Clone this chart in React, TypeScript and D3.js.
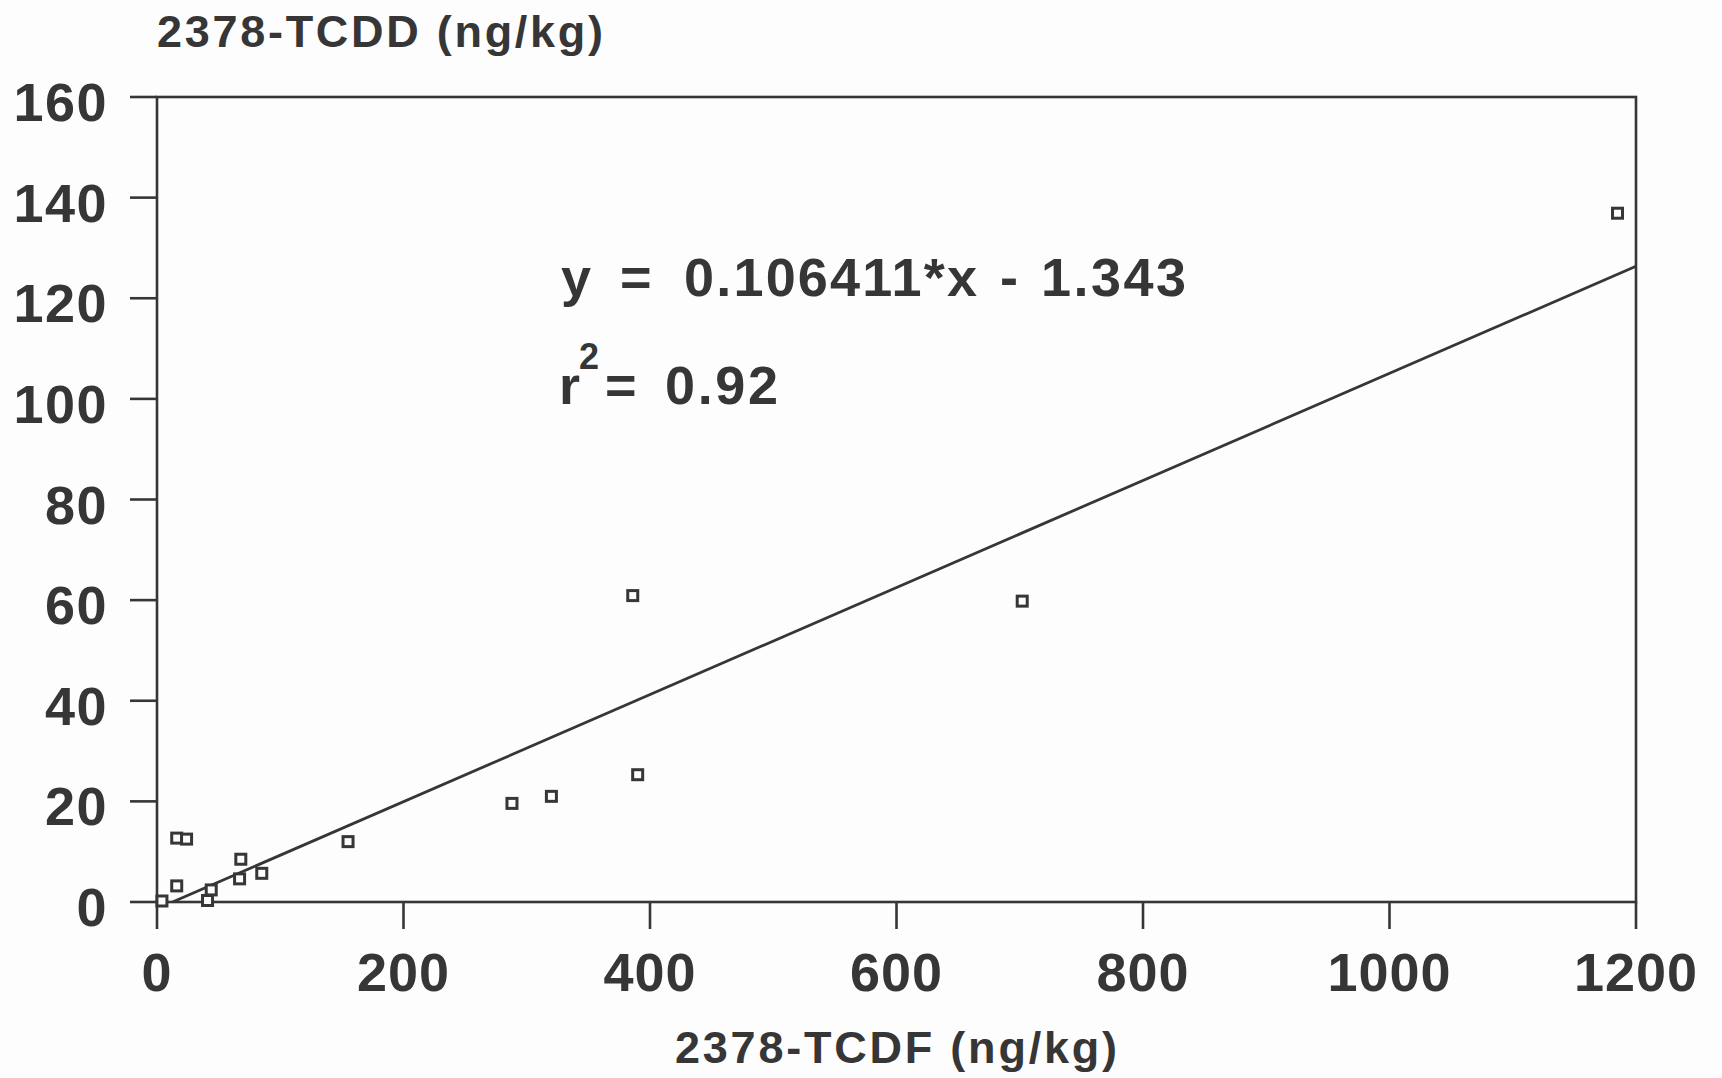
import React, { useEffect, useRef } from "react";
import * as d3 from "d3";

// 2378-TCDF vs 2378-TCDD (ng/kg)
const tcdf = [4, 16, 24, 16, 41, 44, 68, 67, 85, 155, 288, 320, 386, 390, 702, 1185];
const tcdd = [0.2, 12.7, 12.5, 3.2, 0.3, 2.4, 8.5, 4.6, 5.7, 12, 19.6, 21, 60.9, 25.3, 59.8, 136.9];

const xTicks = [0, 200, 400, 600, 800, 1000, 1200];
const yTicks = [0, 20, 40, 60, 80, 100, 120, 140, 160];

const slope = 0.106411;
const intercept = -1.343;
const rSquared = "0.92";

const App = () => {
  const ref = useRef<SVGSVGElement>(null);

  useEffect(() => {
    const svg = d3.select(ref.current);
    svg.selectAll("*").remove();

    const width = 1722;
    const height = 1078;
    const left = 157;
    const right = 1636;
    const top = 97;
    const bottom = 902;
    const ink = "#363636";
    const font = "'Liberation Sans', Arial, Helvetica, sans-serif";
    const tickLen = 27;

    const x = d3.scaleLinear().domain([0, 1200]).range([left, right]);
    const y = d3.scaleLinear().domain([0, 160]).range([bottom, top]);

    svg.attr("width", width).attr("height", height);
    svg.append("rect").attr("width", width).attr("height", height).attr("fill", "#fdfdfd");

    // frame
    svg
      .append("rect")
      .attr("x", left)
      .attr("y", top)
      .attr("width", right - left)
      .attr("height", bottom - top)
      .attr("fill", "none")
      .attr("stroke", ink)
      .attr("stroke-width", 2.6);

    // y ticks
    svg
      .selectAll(".yt")
      .data(yTicks)
      .enter()
      .append("line")
      .attr("x1", left - tickLen)
      .attr("x2", left)
      .attr("y1", (d) => y(d))
      .attr("y2", (d) => y(d))
      .attr("stroke", ink)
      .attr("stroke-width", 2.6);

    svg
      .selectAll(".yl")
      .data(yTicks)
      .enter()
      .append("text")
      .attr("x", 108)
      .attr("y", (d) => y(d) + 24)
      .attr("text-anchor", "end")
      .attr("font-family", font)
      .attr("font-weight", "bold")
      .attr("font-size", 54)
      .attr("letter-spacing", 1.5)
      .attr("fill", ink)
      .text((d) => d);

    // x ticks
    svg
      .selectAll(".xt")
      .data(xTicks)
      .enter()
      .append("line")
      .attr("x1", (d) => x(d))
      .attr("x2", (d) => x(d))
      .attr("y1", bottom)
      .attr("y2", bottom + tickLen)
      .attr("stroke", ink)
      .attr("stroke-width", 2.6);

    svg
      .selectAll(".xl")
      .data(xTicks)
      .enter()
      .append("text")
      .attr("x", (d) => x(d))
      .attr("y", 991)
      .attr("text-anchor", "middle")
      .attr("font-family", font)
      .attr("font-weight", "bold")
      .attr("font-size", 54)
      .attr("letter-spacing", 1)
      .attr("fill", ink)
      .text((d) => d);

    // axis titles
    svg
      .append("text")
      .attr("x", left)
      .attr("y", 47)
      .attr("font-family", font)
      .attr("font-weight", "bold")
      .attr("font-size", 45)
      .attr("textLength", 446)
      .attr("lengthAdjust", "spacing")
      .attr("fill", ink)
      .text("2378-TCDD (ng/kg)");

    svg
      .append("text")
      .attr("x", 675)
      .attr("y", 1063)
      .attr("font-family", font)
      .attr("font-weight", "bold")
      .attr("font-size", 45)
      .attr("textLength", 442)
      .attr("lengthAdjust", "spacing")
      .attr("fill", ink)
      .text("2378-TCDF (ng/kg)");

    // regression line
    const x0 = -intercept / slope;
    const fit = [x0, 1200];
    svg
      .append("path")
      .datum(fit)
      .attr(
        "d",
        d3
          .line<number>()
          .x((d) => x(d))
          .y((d) => y(slope * d + intercept))
      )
      .attr("fill", "none")
      .attr("stroke", ink)
      .attr("stroke-width", 2.8);

    // points
    const pts = tcdf.map((v, i) => [v, tcdd[i]]);
    const s = 10;
    svg
      .selectAll(".pt")
      .data(pts)
      .enter()
      .append("rect")
      .attr("x", (d) => x(d[0]) - s / 2)
      .attr("y", (d) => y(d[1]) - s / 2)
      .attr("width", s)
      .attr("height", s)
      .attr("fill", "#fdfdfd")
      .attr("stroke", ink)
      .attr("stroke-width", 3);

    // equation, laid out piece by piece like the original
    const eq = svg
      .append("g")
      .attr("font-family", font)
      .attr("font-weight", "bold")
      .attr("font-size", 54)
      .attr("fill", ink);
    eq.append("text").attr("x", 561).attr("y", 296).text("y");
    eq.append("text").attr("x", 620).attr("y", 296).text("=");
    eq
      .append("text")
      .attr("x", 684)
      .attr("y", 296)
      .attr("textLength", 293)
      .attr("lengthAdjust", "spacing")
      .text(`${slope}*x`);
    eq.append("text").attr("x", 1000).attr("y", 296).text("-");
    eq
      .append("text")
      .attr("x", 1041)
      .attr("y", 296)
      .attr("textLength", 145)
      .attr("lengthAdjust", "spacing")
      .text(`${Math.abs(intercept)}`);

    const r2 = svg
      .append("g")
      .attr("font-family", font)
      .attr("font-weight", "bold")
      .attr("fill", ink);
    r2.append("text").attr("x", 559).attr("y", 404).attr("font-size", 54).text("r");
    r2.append("text").attr("x", 579).attr("y", 369).attr("font-size", 36).text("2");
    r2.append("text").attr("x", 605).attr("y", 404).attr("font-size", 54).text("=");
    r2
      .append("text")
      .attr("x", 665)
      .attr("y", 404)
      .attr("font-size", 54)
      .attr("textLength", 113)
      .attr("lengthAdjust", "spacing")
      .text(rSquared);
  }, []);

  return <svg ref={ref} style={{ position: "absolute", left: 0, top: 0 }}></svg>;
};

export default App;
